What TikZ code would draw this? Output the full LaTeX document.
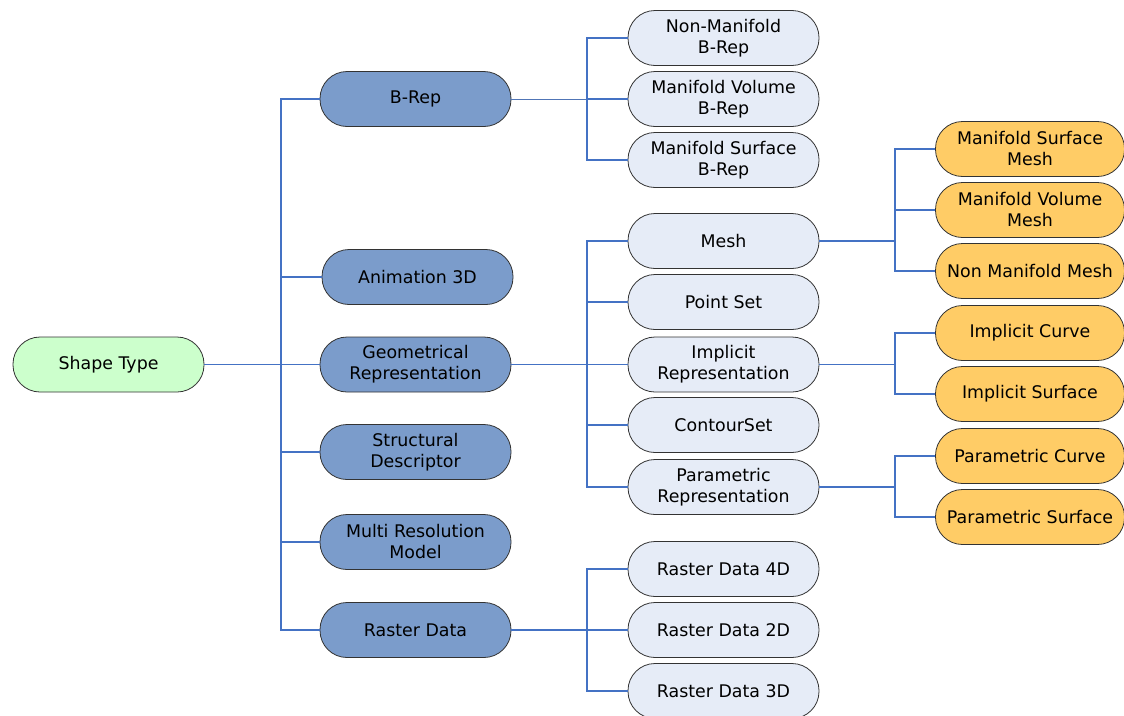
\documentclass[tikz,border=0pt]{standalone}
\usepackage{fontspec}
\setmainfont{DejaVu Sans}
\begin{document}
\begin{tikzpicture}[x=1pt,y=-1pt,
  box/.style={draw=black!80,line width=0.8pt,rectangle,rounded corners=27pt,
    minimum width=191pt,minimum height=55pt,inner sep=2pt,align=center,
    font=\fontsize{17.4}{21}\selectfont},
  rootbox/.style={box,fill=rootgreen},
  lvone/.style={box,fill=lvoneblue},
  lvtwo/.style={box,fill=lvtwoblue},
  lvthree/.style={box,fill=lvthreeorange,minimum width=189pt},
  link/.style={draw=linkblue,line width=1.2pt},
  thinlink/.style={draw=linkblue!80!gray,line width=0.7pt}]
\definecolor{rootgreen}{HTML}{CCFFCC}
\definecolor{lvoneblue}{HTML}{7B9CCB}
\definecolor{lvtwoblue}{HTML}{E6ECF7}
\definecolor{lvthreeorange}{HTML}{FFCC66}
\definecolor{linkblue}{HTML}{4472C4}
\useasboundingbox (0,0) rectangle (1124,715);

% branch columns
\coordinate (ka) at (281,0);
\coordinate (kb) at (587,0);
\coordinate (kc) at (895,0);

% root
\node[rootbox] (root) at (108.5,364.5) {Shape Type};

% first level
\node[lvone] (brep)   at (415.5,99)    {B-Rep};
\node[lvone] (anim)   at (417.5,277)   {Animation 3D};
\node[lvone] (geom)   at (415.5,364.5) {Geometrical\\Representation};
\node[lvone] (struct) at (415.5,452)   {Structural\\Descriptor};
\node[lvone] (multi)  at (415.5,542)   {Multi Resolution\\Model};
\node[lvone] (raster) at (415.5,630)   {Raster Data};

% second level
\node[lvtwo] (nonman)   at (723.5,38)    {Non-Manifold\\B-Rep};
\node[lvtwo] (manvol)   at (723.5,99)    {Manifold Volume\\B-Rep};
\node[lvtwo] (mansurf)  at (723.5,160)   {Manifold Surface\\B-Rep};
\node[lvtwo] (mesh)     at (723.5,241)   {Mesh};
\node[lvtwo] (pointset) at (723.5,302)   {Point Set};
\node[lvtwo] (implicit) at (723.5,364.5) {Implicit\\Representation};
\node[lvtwo] (contour)  at (723.5,425)   {ContourSet};
\node[lvtwo] (param)    at (723.5,487)   {Parametric\\Representation};
\node[lvtwo] (rfour)    at (723.5,569)   {Raster Data 4D};
\node[lvtwo] (rtwo)     at (723.5,630)   {Raster Data 2D};
\node[lvtwo] (rthree)   at (723.5,691)   {Raster Data 3D};

% third level
\node[lvthree] (mss)    at (1030,149) {Manifold Surface\\Mesh};
\node[lvthree] (mvm)    at (1030,210) {Manifold Volume\\Mesh};
\node[lvthree] (nmm)    at (1030,271) {Non Manifold Mesh};
\node[lvthree] (icurve) at (1030,333) {Implicit Curve};
\node[lvthree] (isurf)  at (1030,394) {Implicit Surface};
\node[lvthree] (pcurve) at (1030,456) {Parametric Curve};
\node[lvthree] (psurf)  at (1030,517) {Parametric Surface};

% root to first level
\foreach \c in {brep,anim,geom,struct,multi,raster}
  \draw[link] (root.east) -- (ka |- root.east) |- (\c.west);

% B-Rep family
\draw[thinlink] (brep.east) -- (manvol.west);
\foreach \c in {nonman,manvol,mansurf}
  \draw[link] (kb |- brep.east) |- (\c.west);

% geometrical representations
\foreach \c in {mesh,pointset,implicit,contour,param}
  \draw[link] (geom.east) -- (kb |- geom.east) |- (\c.west);

% raster data
\foreach \c in {rfour,rtwo,rthree}
  \draw[link] (raster.east) -- (kb |- raster.east) |- (\c.west);

% mesh kinds
\foreach \c in {mss,mvm,nmm}
  \draw[link] (mesh.east) -- (kc |- mesh.east) |- (\c.west);

% implicit kinds
\foreach \c in {icurve,isurf}
  \draw[link] (implicit.east) -- (kc |- implicit.east) |- (\c.west);

% parametric kinds
\foreach \c in {pcurve,psurf}
  \draw[link] (param.east) -- (kc |- param.east) |- (\c.west);
\end{tikzpicture}
\end{document}
